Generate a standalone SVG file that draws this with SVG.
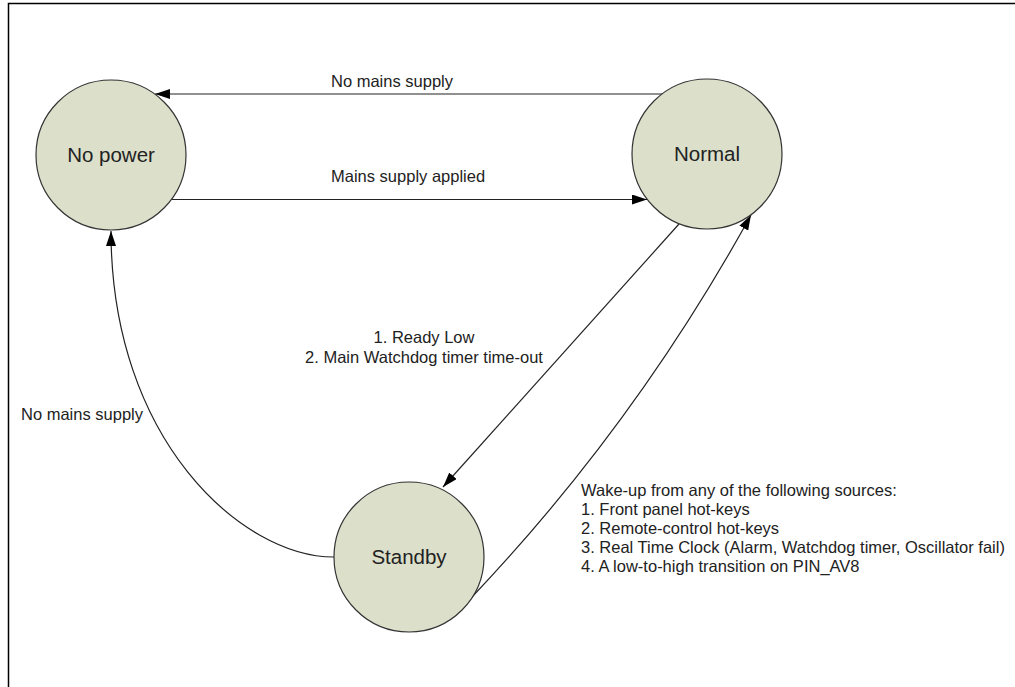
<svg xmlns="http://www.w3.org/2000/svg" width="1015" height="687" viewBox="0 0 1015 687">
  <defs>
    <style>
      .state { fill: #dcdfca; stroke: #333333; stroke-width: 1.2; }
      .stateLabel { font-family: "Liberation Sans", Arial, sans-serif; font-size: 20.5px; fill: #222222; text-anchor: middle; }
      .label { font-family: "Liberation Sans", Arial, sans-serif; font-size: 16.5px; fill: #222222; }
      .conn { fill: none; stroke: #222222; stroke-width: 1.2; marker-end: url(#arrow); }
    </style>
    <marker id="arrow" markerUnits="userSpaceOnUse" markerWidth="16" markerHeight="11" refX="15" refY="5" orient="auto">
      <path d="M0,0 L15,5 L0,10 z" fill="#000000"/>
    </marker>
  </defs>
  <rect x="0" y="0" width="1015" height="687" fill="#ffffff"/>
  <path d="M8.5,687 V3.5 H1015" fill="none" stroke="#000000" stroke-width="1.5"/>

  <g id="connectors">
    <path id="c-normal-nopower" class="conn" d="M663,94 H155"/>
    <path id="c-nopower-normal" class="conn" d="M172,199.5 H647"/>
    <path id="c-normal-standby" class="conn" d="M679,224 L443,487"/>
    <path id="c-standby-normal" class="conn" d="M472,597 Q636,424 751,215"/>
    <path id="c-standby-nopower" class="conn" d="M334,557 C242,557 111,440 111,231"/>
  </g>

  <g id="labels">
    <text class="label" x="331" y="87">No mains supply</text>
    <text class="label" x="331" y="182">Mains supply applied</text>
    <text class="label" x="424" y="343" text-anchor="middle">1. Ready Low</text>
    <text class="label" x="424" y="363" text-anchor="middle">2. Main Watchdog timer time-out</text>
    <text class="label" x="21" y="420">No mains supply</text>
    <text class="label" x="581">
      <tspan x="581" y="496">Wake-up from any of the following sources:</tspan>
      <tspan x="581" y="515">1. Front panel hot-keys</tspan>
      <tspan x="581" y="534">2. Remote-control hot-keys</tspan>
      <tspan x="581" y="553">3. Real Time Clock (Alarm, Watchdog timer, Oscillator fail)</tspan>
      <tspan x="581" y="572">4. A low-to-high transition on PIN_AV8</tspan>
    </text>
  </g>

  <g id="node-nopower">
    <circle class="state" cx="111" cy="155" r="75"/>
    <text class="stateLabel" x="111" y="162">No power</text>
  </g>
  <g id="node-normal">
    <circle class="state" cx="707" cy="154" r="75"/>
    <text class="stateLabel" x="707" y="161">Normal</text>
  </g>
  <g id="node-standby">
    <circle class="state" cx="409" cy="557" r="75"/>
    <text class="stateLabel" x="409" y="564">Standby</text>
  </g>
</svg>
